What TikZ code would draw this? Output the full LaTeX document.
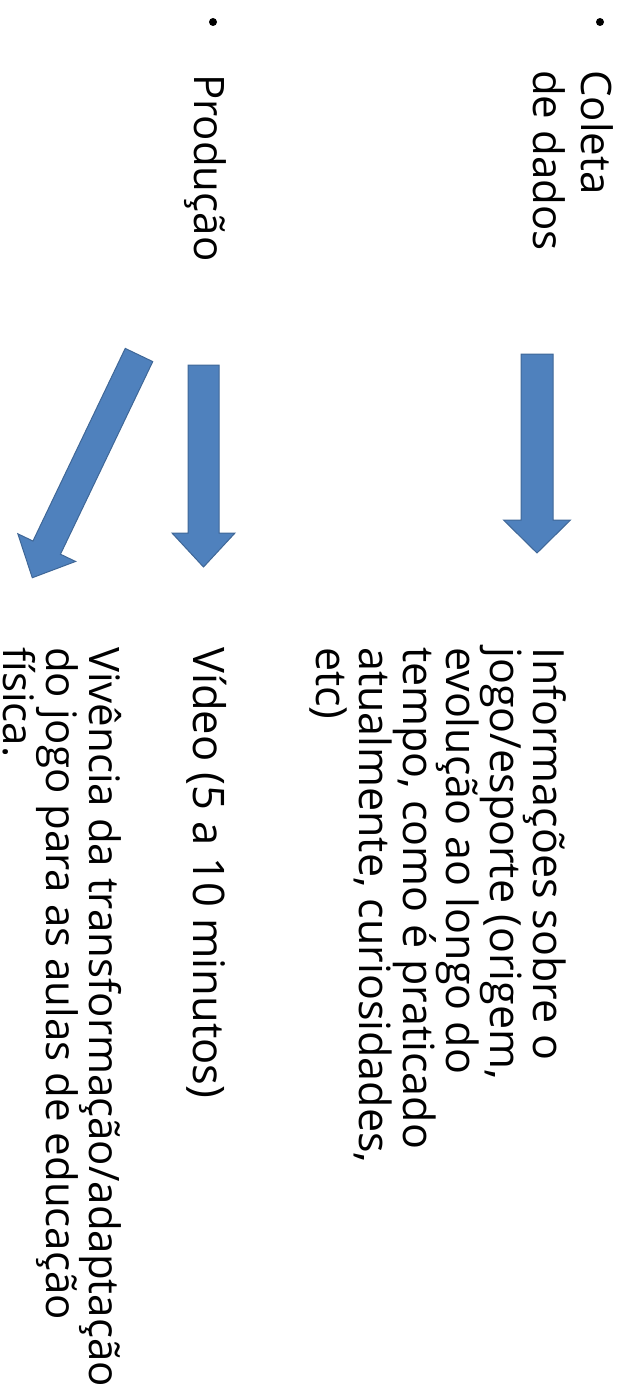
\documentclass[tikz,border=0pt]{standalone}
\usepackage{fontspec}
\setmainfont{Open Sans}
\definecolor{arrfill}{HTML}{4F81BD}
\definecolor{arrline}{HTML}{3F6797}
\tikzset{
  arrowbody/.style={fill=arrfill, draw=arrline, line width=1pt, line join=miter},
  vtext/.style={rotate=-90, anchor=north west, inner sep=0pt, align=left, font=\fontsize{42}{43.5}\selectfont},
  vhead/.style={vtext, font=\fontsize{42}{48}\selectfont},
  bulletdot/.style={circle, fill=black, inner sep=0pt, minimum size=8pt},
}
\newcommand{\blockarr}[4]{%
  \filldraw[arrowbody] (0,-#2/2) -- (#1-#3,-#2/2) -- (#1-#3,-#4) -- (#1,0) -- (#1-#3,#4) -- (#1-#3,#2/2) -- (0,#2/2) -- cycle;}
\begin{document}
\begin{tikzpicture}[x=1pt,y=-1pt]
\useasboundingbox (0,0) rectangle (626,1397);
% bullets
\node[bulletdot] (b1) at (600,22) {};
\node[bulletdot] (b2) at (213,22) {};
% headings
\node[vhead] (coleta) at (614,70) {Coleta\\de dados};
\node[vhead] (producao) at (227,74) {Produção};
% texts
\node[vtext, font=\fontsize{43}{43.5}\selectfont] (info) at (567,647) {Informações sobre o\\jogo/esporte (origem,\\evolução ao longo do\\tempo, como é praticado\\atualmente, curiosidades,\\etc)};
\node[vtext, font=\fontsize{43.5}{43.5}\selectfont] (video) at (227,647) {Vídeo (5 a 10 minutos)};
\node[vtext, font=\fontsize{42}{41}\selectfont] (vivencia) at (122,647) {Vivência da transformação/adaptação\\do jogo para as aulas de educação\\física.};
% block arrows
\begin{scope}[shift={(537,354)}, rotate=-90]
  \blockarr{199}{32}{33}{33.5}
\end{scope}
\begin{scope}[shift={(203.5,365)}, rotate=-90]
  \blockarr{202}{31}{34}{31.5}
\end{scope}
\begin{scope}[shift={(139,355)}, rotate=-115.6]
  \blockarr{247}{30.5}{33.4}{32}
\end{scope}
\end{tikzpicture}
\end{document}
